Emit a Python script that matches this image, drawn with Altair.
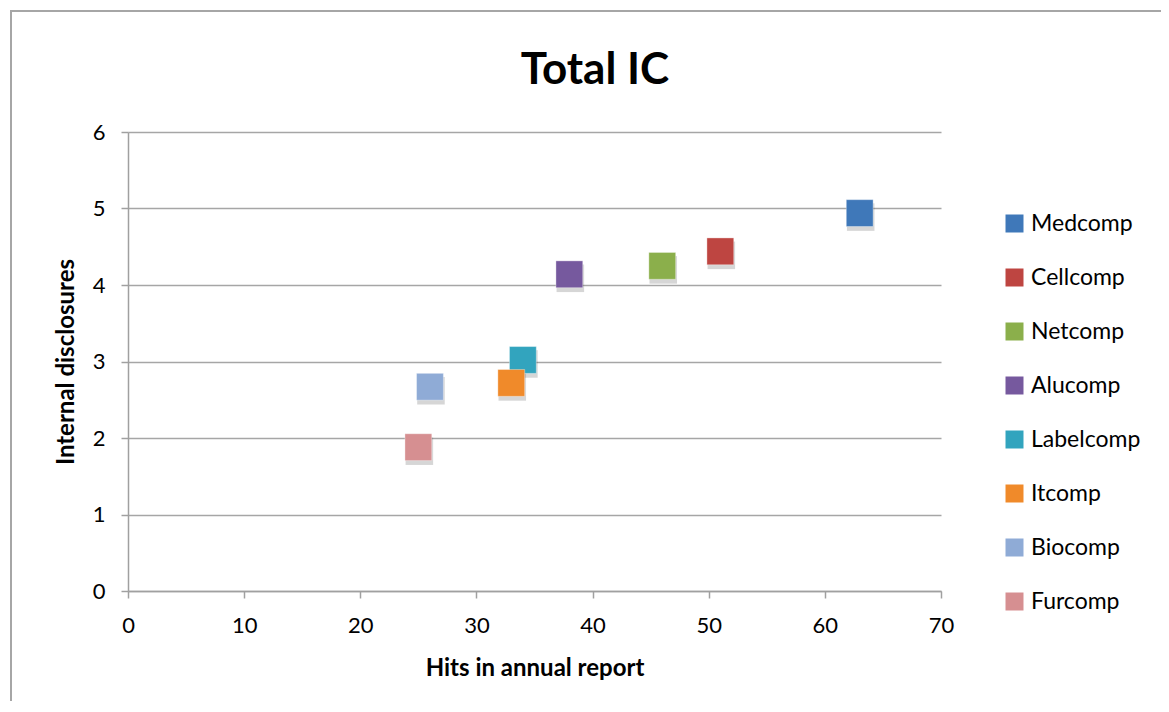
import altair as alt
import pandas as pd

companies = ["Medcomp", "Cellcomp", "Netcomp", "Alucomp", "Labelcomp", "Itcomp", "Biocomp", "Furcomp"]
hits = [63, 51, 46, 38, 34, 33, 26, 25]
disclosures = [4.94, 4.44, 4.25, 4.14, 3.02, 2.72, 2.67, 1.88]
colors = ["#3F78B9", "#BE4541", "#8BAF4B", "#76599E", "#32A4BE", "#F08A2A", "#8FABD6", "#D68F91"]
title_text = "Total IC"

df = pd.DataFrame({"company": companies, "hits": hits, "disc": disclosures})

FONT = "Lato"
W, H = 813, 459

xs = alt.X("hits:Q", scale=alt.Scale(domain=[0, 70], nice=False),
           axis=alt.Axis(values=list(range(0, 71, 10)), title="Hits in annual report", grid=False,
                         labelFlush=False))
ys = alt.Y("disc:Q", scale=alt.Scale(domain=[0, 6], nice=False),
           axis=alt.Axis(values=list(range(0, 7)), title="Internal disclosures", grid=True))

one = pd.DataFrame({"a": [0]})
frame = alt.Chart(one).mark_rect(
    filled=False, stroke="#A6A6A6", strokeWidth=2
).encode(x=alt.value(-117), x2=alt.value(1034), y=alt.value(-121), y2=alt.value(620))

title = alt.Chart(one).mark_text(
    font=FONT, fontSize=44, fontWeight="bold", color="black", align="center", baseline="alphabetic"
).encode(x=alt.value(467), y=alt.value(-48), text=alt.value(title_text))

shadow = alt.Chart(df).mark_square(size=760, filled=True, color="#000000", opacity=0.16).encode(
    x=xs, y=ys, yOffset=alt.value(4), xOffset=alt.value(1)
)

points = alt.Chart(df).mark_square(size=720, filled=True, opacity=1, strokeWidth=1, strokeOpacity=0.35, stroke="white").encode(
    x=xs, y=ys,
    color=alt.Color("company:N", sort=companies,
                    scale=alt.Scale(domain=companies, range=colors),
                    legend=alt.Legend(title=None, orient="none", legendX=875, legendY=80,
                                      symbolType="square", symbolSize=324, symbolStrokeWidth=0,
                                      labelFontSize=23, labelFont=FONT, labelColor="black",
                                      rowPadding=30, labelOffset=5, symbolOpacity=1)),
)

chart = alt.layer(frame, title, shadow, points).properties(
    width=W, height=H,
    autosize=alt.AutoSizeParams(type="none"),
    padding={"left": 120, "top": 124, "right": 220, "bottom": 110},
).configure_view(stroke=None).configure_axis(
    domainColor="#A0A0A0", domainWidth=1.5, tickColor="#A0A0A0", tickWidth=1.5, tickSize=7,
    gridColor="#A6A6A6", gridWidth=1.5,
    labelFont=FONT, labelFontSize=22, labelColor="black",
    titleFont=FONT, titleFontSize=24, titleFontWeight="bold", titleColor="black",
).configure_axisX(labelPadding=17, titlePadding=20).configure_axisY(labelPadding=16, titlePadding=14)

chart.save("out.html", embed_options={"renderer": "svg", "actions": False})
